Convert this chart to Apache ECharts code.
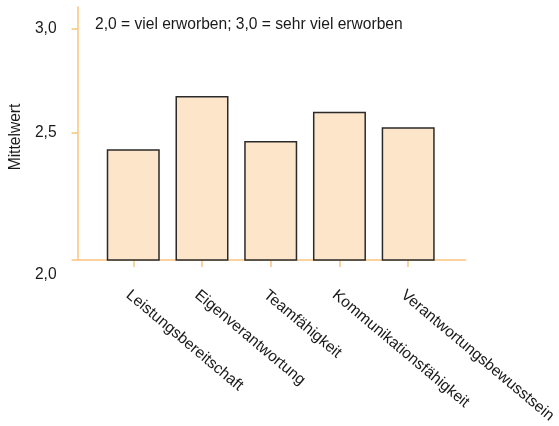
<!DOCTYPE html>
<html>
<head>
<meta charset="utf-8">
<script src="https://cdn.jsdelivr.net/npm/echarts@6/dist/echarts.min.js"></script>
<style>html,body{margin:0;padding:0;background:#fff}#c{width:559px;height:426px}</style>
</head>
<body>
<div id="c"></div>
<script>
const categories = ['Leistungsbereitschaft', 'Eigenverantwortung', 'Teamfähigkeit', 'Kommunikationsfähigkeit', 'Verantwortungsbewusstsein'];
const values = [2.42, 2.676, 2.46, 2.60, 2.526];
const yTickValues = [1.888, 2.5, 3.0];
const yTickLabels = ['2,0', '2,5', '3,0'];
const note = '2,0 = viel erworben; 3,0 = sehr viel erworben';
const yName = 'Mittelwert';

const FONT = 'Liberation Sans, Arial, Helvetica, sans-serif';
const FS = 15.6;
const TXT = '#1a1a1a';
const AXIS = '#f9c47f';
const chart = echarts.init(document.getElementById('c'), null, {renderer: 'canvas'});
chart.setOption({
  animation: false,
  textStyle: {fontFamily: FONT},
  title: {
    text: note, left: 90, top: 12,
    textStyle: {fontSize: FS, fontWeight: 'normal', color: TXT, fontFamily: FONT}
  },
  grid: {left: 76, right: 93, top: 7, bottom: 166},
  xAxis: {
    type: 'value', min: -0.81, max: 4.835,
    splitLine: {show: false},
    axisLine: {show: true, onZero: false, lineStyle: {color: AXIS, width: 1.5}},
    axisTick: {show: true, customValues: categories.map((c, i) => i), length: 7, lineStyle: {color: AXIS, width: 1.5}},
    axisLabel: {
      customValues: categories.map((c, i) => i),
      formatter: v => categories[Math.round(v)],
      rotate: -40, margin: 27, verticalAlign: 'top',
      fontSize: FS, color: TXT, fontFamily: FONT
    }
  },
  yAxis: {
    type: 'value', min: 1.888, max: 3.104,
    name: yName, nameLocation: 'middle', nameGap: 51, nameRotate: 90,
    nameTextStyle: {fontSize: FS, color: TXT, fontFamily: FONT, padding: [0, 7, 0, 0]},
    splitLine: {show: false},
    axisLine: {show: true, onZero: false, lineStyle: {color: AXIS, width: 1.5}},
    axisTick: {show: true, customValues: yTickValues, length: 6, lineStyle: {color: AXIS, width: 1.5}},
    axisLabel: {
      customValues: yTickValues,
      formatter: v => {
        const i = yTickValues.indexOf(v);
        const t = i >= 0 ? yTickLabels[i] : '';
        return i === 0 ? '{low|' + t + '}' : t;
      },
      rich: {low: {padding: [30, 0, 0, 0], fontSize: FS, color: TXT, fontFamily: FONT}},
      margin: 21, fontSize: FS, color: TXT, fontFamily: FONT
    }
  },
  series: [{
    type: 'bar',
    data: values.map((v, i) => [i, v]),
    barWidth: 53,
    itemStyle: {color: '#fce5c9', borderColor: '#2a2a2a', borderWidth: 1.5}
  }]
});
</script>
</body>
</html>
